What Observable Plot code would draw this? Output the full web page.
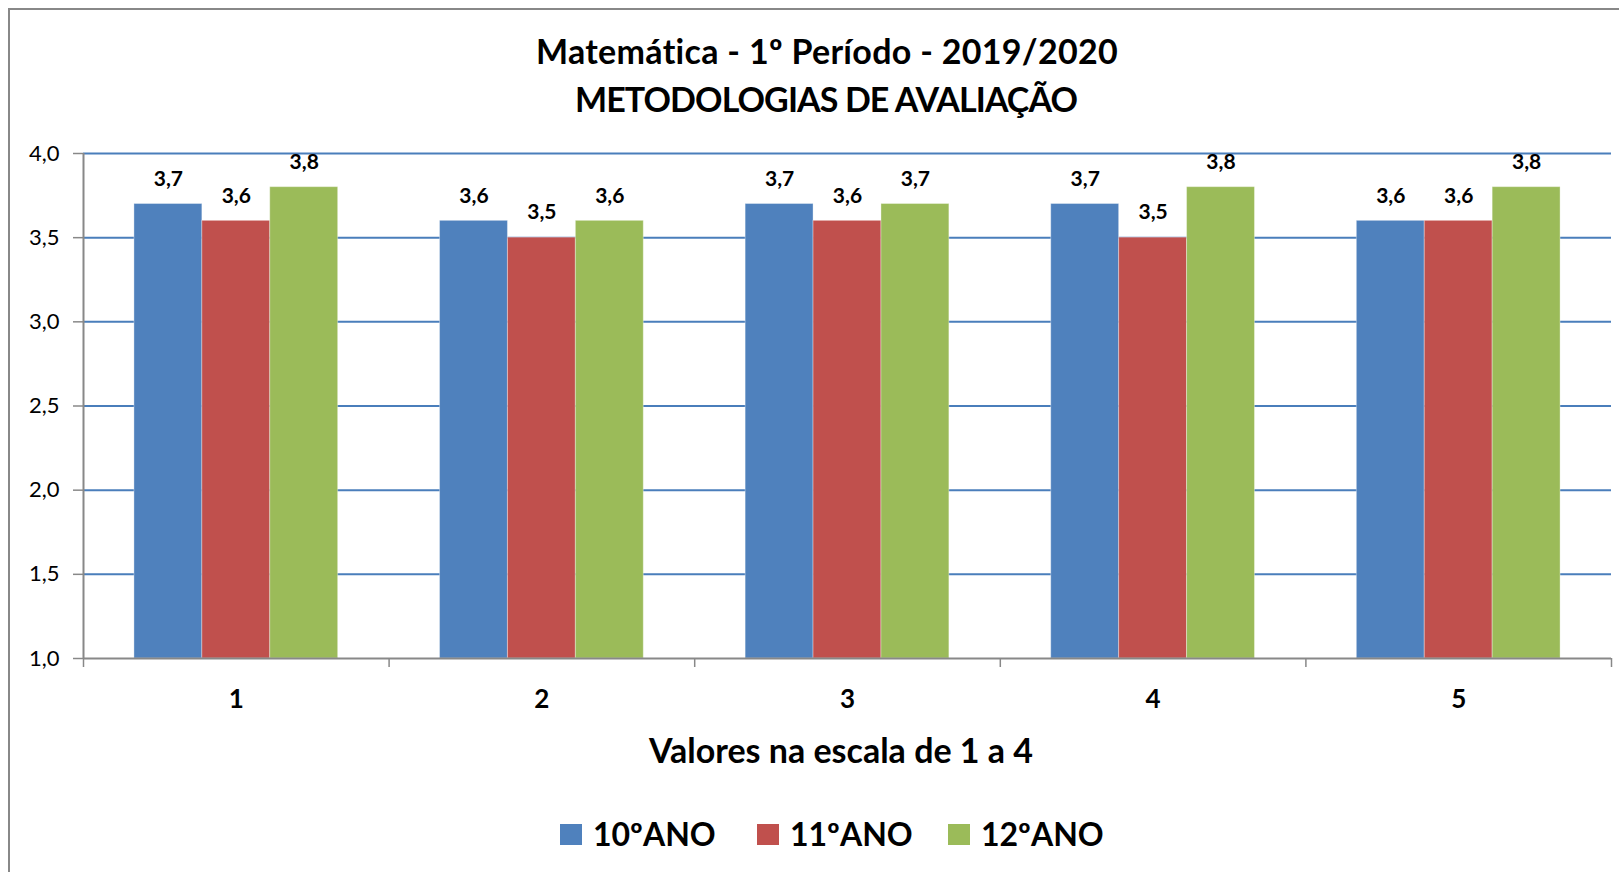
<!DOCTYPE html>
<html>
<head>
<meta charset="utf-8">
<script src="https://cdn.jsdelivr.net/npm/d3@7"></script>
<script src="https://cdn.jsdelivr.net/npm/@observablehq/plot@0.6"></script>
<style>
  html, body { margin: 0; padding: 0; background: #ffffff; }
  #chart { position: relative; width: 1619px; height: 872px; overflow: hidden; background: #ffffff; font-family: Lato, "Open Sans", sans-serif; }
  #border { position: absolute; left: 8px; top: 8px; width: 1700px; height: 1000px; border-left: 2.5px solid #888888; border-top: 2.5px solid #888888; }
  #plot { position: absolute; left: 0; top: 0; }
  .txt { position: absolute; white-space: nowrap; line-height: 1.2; font-weight: 700; color: #000; transform: translateX(-50%); }
  .legend-item { position: absolute; display: flex; align-items: center; }
  .sw { display: inline-block; width: 22px; height: 21px; }
</style>
</head>
<body>
<div id="chart"><div id="border"></div><div id="plot"></div></div>
<script>
// ---------- data ----------
const titleLines = ["Matemática - 1º Período - 2019/2020", "METODOLOGIAS DE AVALIAÇÃO"];
const xTitle = "Valores na escala de 1 a 4";
const categories = [1, 2, 3, 4, 5];
const series = ["10ºANO", "11ºANO", "12ºANO"];
const values10 = [3.7, 3.6, 3.7, 3.7, 3.6];
const values11 = [3.6, 3.5, 3.6, 3.5, 3.6];
const values12 = [3.8, 3.6, 3.7, 3.8, 3.8];
const colors = ["#4F81BD", "#C0504D", "#9BBB59"];
const yTicks = [1.0, 1.5, 2.0, 2.5, 3.0, 3.5, 4.0];

// ---------- derived table ----------
const seriesValues = [values10, values11, values12];
const groupWidth = 2 / 3;                       // share of each category slot used by its bars
const barWidth = groupWidth / series.length;
const rows = [];
categories.forEach((c, ci) => {
  series.forEach((s, si) => {
    const x1 = c - groupWidth / 2 + si * barWidth;
    rows.push({category: c, series: s, value: seriesValues[si][ci], x1, x2: x1 + barWidth});
  });
});
const yMin = yTicks[0], yMax = yTicks[yTicks.length - 1];
const xDomain = [categories[0] - 0.5, categories[categories.length - 1] + 0.5];
const boundaries = [...categories.map(c => c - 0.5), categories[categories.length - 1] + 0.5];
const fmt1 = v => d3.format(".1f")(v).replace(".", ",");

const gray = "#888888";
const W = 1619, H = 780;

const chart = Plot.plot({
  width: W,
  height: H,
  marginLeft: 83,
  marginRight: 8,
  marginTop: 153,
  marginBottom: 122,
  style: {fontFamily: "Lato, 'Open Sans', sans-serif", color: "#000", background: "transparent", overflow: "visible"},
  x: {type: "linear", domain: xDomain, axis: null},
  y: {domain: [yMin, yMax], axis: null},
  color: {domain: series, range: colors},
  marks: [
    Plot.ruleY(yTicks.filter(d => d > yMin), {stroke: "#4A7EBB", strokeWidth: 2}),
    Plot.rect(rows, {x1: "x1", x2: "x2", y1: yMin, y2: "value", fill: "series", stroke: "#ffffff", strokeOpacity: 0.35, strokeWidth: 1}),
    Plot.text(rows, {x: d => (d.x1 + d.x2) / 2, y: "value", text: d => fmt1(d.value), dy: -25, fontSize: 21, fontWeight: "bold", fill: "#000"}),
    Plot.ruleY([yMin], {stroke: gray, strokeWidth: 2}),
    Plot.ruleX([xDomain[0]], {stroke: gray, strokeWidth: 2}),
    Plot.axisY({ticks: yTicks, tickSize: 10, tickPadding: 14, tickFormat: fmt1, fontSize: 22, label: null, stroke: gray, strokeWidth: 1.5}),
    Plot.axisX({ticks: boundaries, tickSize: 9, tickFormat: () => "", label: null, stroke: gray, strokeWidth: 1.5}),
    Plot.axisX({ticks: categories, tickSize: 0, tickPadding: 31, tickFormat: d => String(d), fontSize: 26, fontWeight: "bold", label: null})
  ]
});
document.getElementById("plot").appendChild(chart);

// ---------- HTML texts ----------
const root = document.getElementById("chart");
function placeText(text, cx, baseline, size, spacing) {
  const el = document.createElement("div");
  el.className = "txt";
  el.textContent = text;
  el.style.fontSize = size + "px";
  el.style.left = cx + "px";
  el.style.top = (baseline - 0.987 * size) + "px";
  if (spacing) el.style.letterSpacing = spacing + "px";
  root.appendChild(el);
  return el;
}
placeText(titleLines[0], 827, 65, 34, 0.3);
placeText(titleLines[1], 826, 113, 34, -0.9);
placeText(xTitle, 841, 764, 34);

// legend
const legendX = [560, 757, 948];
series.forEach((s, i) => {
  const item = document.createElement("div");
  item.className = "legend-item";
  item.style.left = legendX[i] + "px";
  item.style.top = "815px";
  item.style.height = "38px";
  const sw = document.createElement("span");
  sw.className = "sw";
  sw.style.background = colors[i];
  const lab = document.createElement("span");
  lab.textContent = s;
  lab.style.cssText = "font-size:32px;font-weight:700;margin-left:11px;line-height:38px;color:#000;";
  item.appendChild(sw);
  item.appendChild(lab);
  root.appendChild(item);
});
</script>
</body>
</html>
